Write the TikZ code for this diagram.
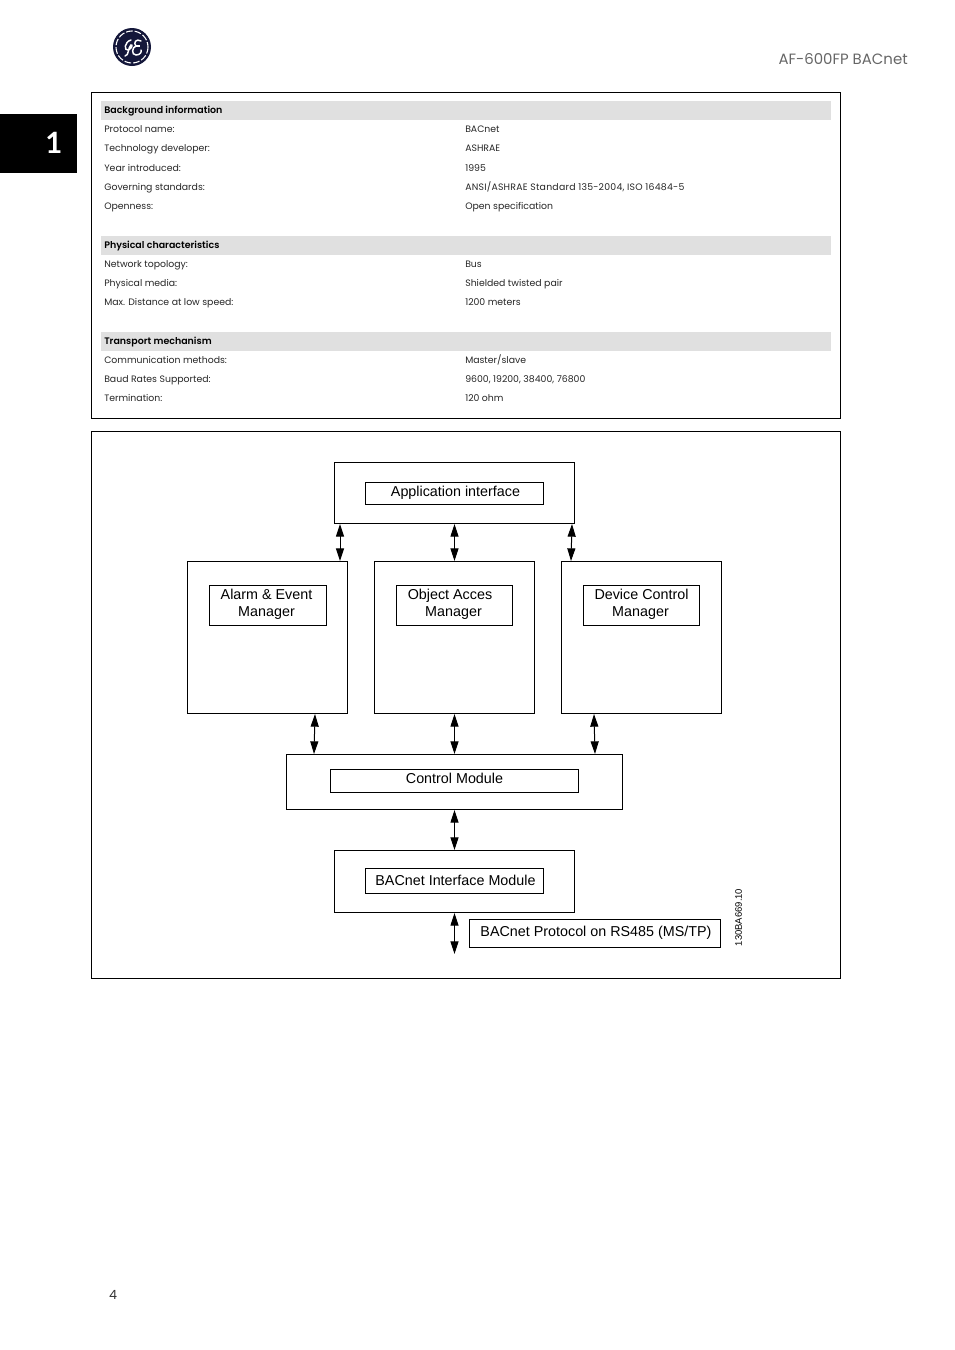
\documentclass[tikz,border=0pt]{standalone}
\usepackage{fontspec}
\setmainfont[Numbers=Monospaced,BoldFont={Poppins SemiBold}]{Poppins}
\newfontfamily\latofont{Lato}
\newfontfamily\arial{Liberation Sans}
\usetikzlibrary{arrows.meta,calc}
\definecolor{hdr}{HTML}{E0E0E0}
\definecolor{navy}{HTML}{14173A}
\tikzset{
  x=0.75pt,y=-0.75pt,
  sz/.style 2 args={minimum width=#1*0.75pt,minimum height=#2*0.75pt},
  frame/.style={draw=black,line width=0.75pt,fill=none,inner sep=0pt},
  diag/.style={draw=black,line width=0.75pt,inner sep=0pt,align=center,font=\arial\fontsize{10.75}{12.75}\selectfont},
  dbl/.style={line width=0.75pt,{Triangle[length=9.5pt,width=6pt]}-{Triangle[length=9.5pt,width=6pt]}},
  hbar/.style={fill=hdr,draw=none,inner sep=0pt,minimum width=547.5pt,minimum height=14.25pt},
  lab/.style={anchor=base west,inner sep=0pt,font=\fontsize{7}{9}\selectfont,text=black!85},
  hlab/.style={anchor=base west,inner sep=0pt,font=\fontsize{7.1}{9}\selectfont\bfseries},
}
\begin{document}
\begin{tikzpicture}
\useasboundingbox (0,0) rectangle (954,1350);
% logo
\node[circle,fill=navy,draw=none,minimum size=28.5pt,inner sep=0pt] (logo) at (132,47) {};
\draw[white,line width=0.8pt,dash pattern=on 5pt off 1.5pt] (132,47) circle[radius=16];
\draw[white,line width=1.1pt,line cap=round] (131,40) .. controls (124,42) and (124,51) .. (128,50) .. controls (132,49) and (133,44) .. (131,45) .. controls (128,47) and (129,56) .. (125,56);
\draw[white,line width=1.1pt,line cap=round] (141,41) .. controls (136,38) and (133,43) .. (136,46) .. controls (132,47) and (131,55) .. (136,55) .. controls (140,55) and (142,52) .. (141,50);
\draw[white,line width=0.8pt] (136,46) -- (140,46);
% tab and header
\fill[black] (0,114) rectangle (77,173);
\node[text=white,font=\latofont\fontsize{22}{24}\selectfont\bfseries,inner sep=0pt] (tabn) at (54,143) {1};
\node[anchor=east,inner sep=0pt,text=black!60,font=\fontsize{11.2}{14}\selectfont] (title) at (908,59) {AF-600FP BACnet};
\node[inner sep=0pt,text=black!80,font=\fontsize{9.5}{12}\selectfont] (page) at (113,1294.5) {4};
% table
\node[frame,sz={749}{326}] (tbl) at (466,255.5) {};
\node[hbar] (h1) at (466,110.5) {};
\node[hbar] (h2) at (466,245.5) {};
\node[hbar] (h3) at (466,341.5) {};
\node[hlab] (h1t) at (104,113.8) {Background information};
\node[lab] (a1) at (104,132.8) {Protocol name:};
\node[lab] (b1) at (465,132.8) {BACnet};
\node[lab] (a2) at (104,151.8) {Technology developer:};
\node[lab] (b2) at (465,151.8) {ASHRAE};
\node[lab] (a3) at (104,171.8) {Year introduced:};
\node[lab] (b3) at (465,171.8) {1995};
\node[lab] (a4) at (104,190.8) {Governing standards:};
\node[lab,font=\fontsize{7}{9}\selectfont\addfontfeature{LetterSpace=2.5}] (b4) at (465,190.8) {ANSI/ASHRAE Standard 135-2004, ISO 16484-5};
\node[lab] (a5) at (104,209.8) {Openness:};
\node[lab] (b5) at (465,209.8) {Open specification};
\node[hlab] (h2t) at (104,248.8) {Physical characteristics};
\node[lab] (a6) at (104,267.8) {Network topology:};
\node[lab] (b6) at (465,267.8) {Bus};
\node[lab] (a7) at (104,286.8) {Physical media:};
\node[lab] (b7) at (465,286.8) {Shielded twisted pair};
\node[lab] (a8) at (104,305.8) {Max. Distance at low speed:};
\node[lab] (b8) at (465,305.8) {1200 meters};
\node[hlab] (h3t) at (104,344.8) {Transport mechanism};
\node[lab] (a9) at (104,363.8) {Communication methods:};
\node[lab] (b9) at (465,363.8) {Master/slave};
\node[lab] (a10) at (104,382.8) {Baud Rates Supported:};
\node[lab] (b10) at (465,382.8) {9600, 19200, 38400, 76800};
\node[lab] (a11) at (104,401.8) {Termination:};
\node[lab] (b11) at (465,401.8) {120 ohm};
% diagram frame
\node[frame,sz={749}{547}] (dia) at (466,705) {};
% outer boxes
\node[diag,sz={240}{61}] (app) at (454.5,493) {};
\node[diag,sz={160}{152}] (alarm) at (267.5,637.5) {};
\node[diag,sz={160}{152}] (obj) at (454.5,637.5) {};
\node[diag,sz={160}{152}] (dev) at (641.5,637.5) {};
\node[diag,sz={336}{55}] (ctrl) at (454.5,782) {};
\node[diag,sz={240}{62}] (bac) at (454.5,881.5) {};
% inner boxes
\node[diag,sz={178}{22}] (appi) at (454.5,493) {\hspace*{1.5pt}\raisebox{-4pt}{Application interface}};
\node[diag,sz={117}{40}] (alarmi) at (268,605.5) {\raisebox{3.4pt}{Alarm \& Event}\hspace*{2.25pt}\\\raisebox{3.4pt}{Manager}\hspace*{2.25pt}};
\node[diag,sz={116}{40}] (obji) at (454.5,605.5) {\raisebox{3.4pt}{Object Acces}\hspace*{6.8pt}\\\raisebox{3.4pt}{Manager}\hspace*{1.5pt}};
\node[diag,sz={116}{40}] (devi) at (641.5,605.5) {\raisebox{3.4pt}{Device Control}\\\raisebox{3.4pt}{Manager}\hspace*{1.5pt}};
\node[diag,sz={248}{23}] (ctrli) at (454.5,781) {\raisebox{4.6pt}{Control Module}};
\node[diag,sz={178}{25}] (baci) at (454.5,880.5) {\hspace*{1.5pt}\raisebox{-4pt}{BACnet Interface Module}};
\node[diag,sz={251}{28}] (proto) at (595,933) {\hspace*{1.5pt}\raisebox{-5pt}{BACnet Protocol on RS485 (MS/TP)}};
\node[rotate=90,inner sep=0pt,font=\arial\fontsize{7.1}{8}\selectfont] (code) at (738.5,917.5) {130BA669.10};
% connectors
\coordinate (free) at (454.5,954);
\draw[dbl] ([xshift=4.5pt]app.south west) -- ([xshift=114.75pt]alarm.north west);
\draw[dbl] (app.south) -- (obj.north);
\draw[dbl] ([xshift=-2.25pt]app.south east) -- ([xshift=7.5pt]dev.north west);
\draw[dbl] ([xshift=-24.75pt]alarm.south east) -- ([xshift=21pt]ctrl.north west);
\draw[dbl] (obj.south) -- (ctrl.north);
\draw[dbl] ([xshift=24.75pt]dev.south west) -- ([xshift=-21pt]ctrl.north east);
\draw[dbl] (ctrl.south) -- (bac.north);
\draw[dbl] (bac.south) -- (free);
\end{tikzpicture}
\end{document}
